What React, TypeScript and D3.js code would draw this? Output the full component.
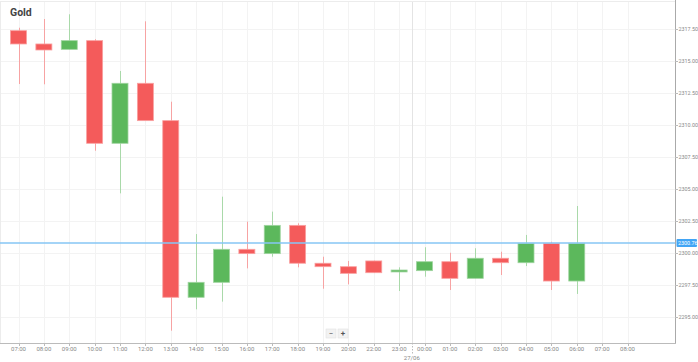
import React from "react";
import * as d3 from "d3";

const slots = ["07:00","08:00","09:00","10:00","11:00","12:00","13:00","14:00","15:00","16:00","17:00","18:00","19:00","20:00","22:00","23:00","00:00","01:00","02:00","03:00","04:00","05:00","06:00","07:00","08:00"];
const opens = [2317.37,2316.33,2315.91,2316.59,2308.57,2313.26,2310.34,2296.54,2297.71,2300.29,2299.95,2302.16,2299.2,2298.93,2299.38,2298.52,2298.62,2299.32,2298.02,2299.59,2299.24,2300.76,2297.81];
const highs = [2317.6,2318.28,2318.65,2316.7,2314.22,2318.1,2311.82,2301.48,2304.4,2302.45,2303.23,2302.32,2299.71,2299.38,2299.4,2298.88,2300.45,2300.02,2300.37,2300.1,2301.41,2300.88,2303.67];
const lows = [2313.2,2313.18,2315.9,2307.99,2304.66,2310.39,2293.93,2295.6,2296.2,2298.8,2299.71,2298.88,2297.21,2297.55,2298.44,2297.03,2298.15,2297.11,2298.02,2298.28,2298.98,2297.11,2296.8];
const closes = [2316.33,2315.86,2316.59,2308.57,2313.26,2310.34,2296.54,2297.71,2300.29,2299.95,2302.16,2299.2,2298.93,2298.41,2298.46,2298.67,2299.32,2298.02,2299.59,2299.24,2300.76,2297.81,2300.76];
const yTicks = [2295, 2297.5, 2300, 2302.5, 2305, 2307.5, 2310, 2312.5, 2315, 2317.5];
const currentPrice = 2300.76;
const dayLabel = "27/06";
const title = "Gold";

const W = 698, H = 362;
const plotR = 675, plotB = 343, plotT = 1;
const RED = "#f45b5b", GREEN = "#5cb85c";
const RED_W = "#f7a3a3", GREEN_W = "#a9d9a9";

export default function App() {
  const keys = slots.map((s, i) => i + "-" + s);
  const x = d3.scalePoint<string>().domain(keys).range([18.5, 627.5]);
  const y = d3.scaleLinear().domain([2295, 2317.5]).range([317, 29]);
  const bw = 16;
  const dividerX = (x(keys[15])! + x(keys[16])!) / 2;
  const font = "Roboto, 'Open Sans', Arial, sans-serif";
  const cy = Math.round(y(currentPrice));

  return (
    <svg width={W} height={H} style={{ position: "absolute", left: 0, top: 0, background: "#fff" }} fontFamily={font}>
      {yTicks.map((t) => (
        <line key={"gy" + t} x1={0} x2={plotR} y1={Math.round(y(t)) + 0.5} y2={Math.round(y(t)) + 0.5} stroke="#f3f3f3" />
      ))}
      {keys.map((k) => (
        <line key={"gx" + k} x1={Math.round(x(k)!) + 0.5} x2={Math.round(x(k)!) + 0.5} y1={plotT} y2={plotB} stroke="#f3f3f3" />
      ))}
      <line x1={Math.round(dividerX) + 0.5} x2={Math.round(dividerX) + 0.5} y1={plotT} y2={plotB} stroke="#e4e4e4" />
      <line x1={0} x2={plotR} y1={plotT + 0.5} y2={plotT + 0.5} stroke="#ececec" />
      <line x1={0.5} x2={0.5} y1={plotT} y2={plotB} stroke="#ececec" />
      {opens.map((o, i) => {
        const c = closes[i];
        const up = c >= o;
        const cx = x(keys[i])!;
        const top = y(Math.max(o, c));
        const bot = y(Math.min(o, c));
        return (
          <g key={"c" + i}>
            <line x1={Math.round(cx) + 0.5} x2={Math.round(cx) + 0.5} y1={y(highs[i])} y2={y(lows[i])} stroke={up ? GREEN_W : RED_W} strokeWidth={1} />
            <rect x={cx - bw / 2} y={top} width={bw} height={Math.max(1.5, bot - top)} fill={up ? GREEN : RED} stroke={up ? "#9fd49f" : "#f9a0a0"} strokeWidth={0.8} />
          </g>
        );
      })}
      <line x1={0} x2={plotR} y1={cy} y2={cy} stroke="#86c6f4" strokeWidth={1.6} />
      <line x1={plotR + 0.5} x2={plotR + 0.5} y1={0} y2={plotB} stroke="#aaa" />
      <line x1={0} x2={plotR + 1} y1={plotB + 0.5} y2={plotB + 0.5} stroke="#bbb" />
      {yTicks.map((t) => (
        <g key={"yt" + t}>
          <line x1={plotR} x2={plotR + 3} y1={Math.round(y(t)) + 0.5} y2={Math.round(y(t)) + 0.5} stroke="#bbb" />
          <text x={plotR + 3.5} y={y(t)} dy="0.35em" fontSize={5.4} fill="#888">{d3.format(".2f")(t)}</text>
        </g>
      ))}
      <rect x={plotR + 1.5} y={cy - 4} width={20.5} height={8} rx={1} fill="#42a5f5" />
      <text x={plotR + 3} y={cy} dy="0.35em" fontSize={5.4} fill="#fff">{currentPrice.toFixed(2)}</text>
      {keys.map((k, i) => (
        <g key={"xt" + k}>
          <line x1={Math.round(x(k)!) + 0.5} x2={Math.round(x(k)!) + 0.5} y1={plotB} y2={plotB + 3} stroke="#bbb" />
          <text x={x(k)!} y={351} textAnchor="middle" fontSize={6} fill="#888">{slots[i]}</text>
        </g>
      ))}
      <line x1={Math.round(dividerX) + 0.5} x2={Math.round(dividerX) + 0.5} y1={plotB} y2={plotB + 12} stroke="#bbb" strokeDasharray="1.5,1.5" />
      <text x={dividerX} y={359.5} textAnchor="middle" fontSize={6} fill="#888">{dayLabel}</text>
      <text x={10} y={16} fontSize={10.5} fontWeight="bold" fill="#444">{title}</text>
      <g>
        <rect x={326} y={329} width={10} height={9} fill="#f2f2f2" stroke="#e2e2e2" strokeWidth={0.6} />
        <rect x={338} y={329} width={10} height={9} fill="#f2f2f2" stroke="#e2e2e2" strokeWidth={0.6} />
        <text x={331} y={333.5} dy="0.35em" textAnchor="middle" fontSize={8} fill="#555">−</text>
        <text x={343} y={333.5} dy="0.35em" textAnchor="middle" fontSize={8} fontWeight="bold" fill="#555">+</text>
      </g>
    </svg>
  );
}
